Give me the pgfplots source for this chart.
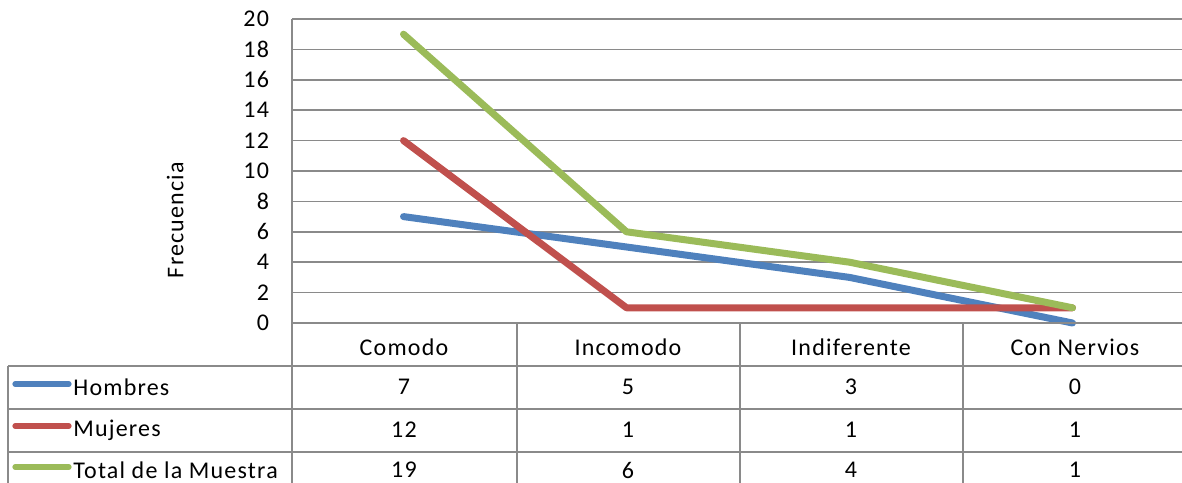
\documentclass[border=0pt]{standalone}
\usepackage{fontspec}
\setmainfont{Carlito}[LetterSpace=5]
\usepackage{pgfplots}
\pgfplotsset{compat=1.18}
\definecolor{cb}{HTML}{4F81BD}
\definecolor{cr}{HTML}{C0504D}
\definecolor{cg}{HTML}{9BBB59}
\definecolor{gr}{HTML}{8A8A8A}
\newcommand\tf{\fontsize{12}{14}\selectfont}
\begin{document}
\begin{tikzpicture}[x=0.5pt,y=0.5pt,font=\tf]
\useasboundingbox (0,0) rectangle (1182,482);
\begin{axis}[at={(146pt,79.5pt)},anchor=south west,scale only axis,
  width=446pt,height=152pt,
  xmin=-0.5,xmax=3.5,ymin=0,ymax=20,
  ytick={0,2,...,20},xtick=\empty,
  ymajorgrids,grid style={gr,line width=0.8pt},
  axis line style={draw=none},major tick length=0pt,
  /pgf/number format/assume math mode=true,
  yticklabel style={xshift=-8pt,font=\tf},
  ylabel={Frecuencia},
  ylabel style={at={(axis description cs:-0.131,0.339)},anchor=center,font=\tf},
  clip=false]
\addplot[cb,line width=3.5pt,line cap=round,line join=round] coordinates {(0,7)(1,5)(2,3)(3,0)};
\addplot[cr,line width=3.5pt,line cap=round,line join=round] coordinates {(0,12)(1,1)(2,1)(3,1)};
\addplot[cg,line width=3.5pt,line cap=round,line join=round] coordinates {(0,19)(1,6)(2,4)(3,1)};
\end{axis}
% table lines
\draw[gr,line width=0.8pt] (292,463) -- (292,-20);
\draw[gr,line width=0.8pt] (292,159) -- (1190,159);
\foreach \yy in {116,73,30} \draw[gr,line width=0.8pt] (8,\yy) -- (1190,\yy);
\draw[gr,line width=0.8pt] (8,116) -- (8,-20);
\foreach \xx in {517,740,963} \draw[gr,line width=0.8pt] (\xx,159) -- (\xx,-20);
% header
\foreach \xx/\t in {404/Comodo,628/Incomodo,851/Indiferente,1075/Con Nervios}
  \node[anchor=center] at (\xx,135) {\t};
% legend keys
\draw[cb,line width=2.6pt,line cap=round] (15,98) -- (69,98);
\draw[cr,line width=2.6pt,line cap=round] (15,56) -- (69,56);
\draw[cg,line width=2.6pt,line cap=round] (15,15) -- (69,15);
\node[anchor=west,inner sep=0pt] at (73,95) {Hombres};
\node[anchor=west,inner sep=0pt] at (73,52) {Mujeres};
\node[anchor=west,inner sep=0pt] at (73,12) {Total de la Muestra};
% values
\foreach \xx/\a/\b/\c in {404/7/12/19,628/5/1/6,851/3/1/4,1075/0/1/1}{
  \node at (\xx,95) {\a};
  \node at (\xx,52) {\b};
  \node at (\xx,12) {\c};
}
\end{tikzpicture}
\end{document}
